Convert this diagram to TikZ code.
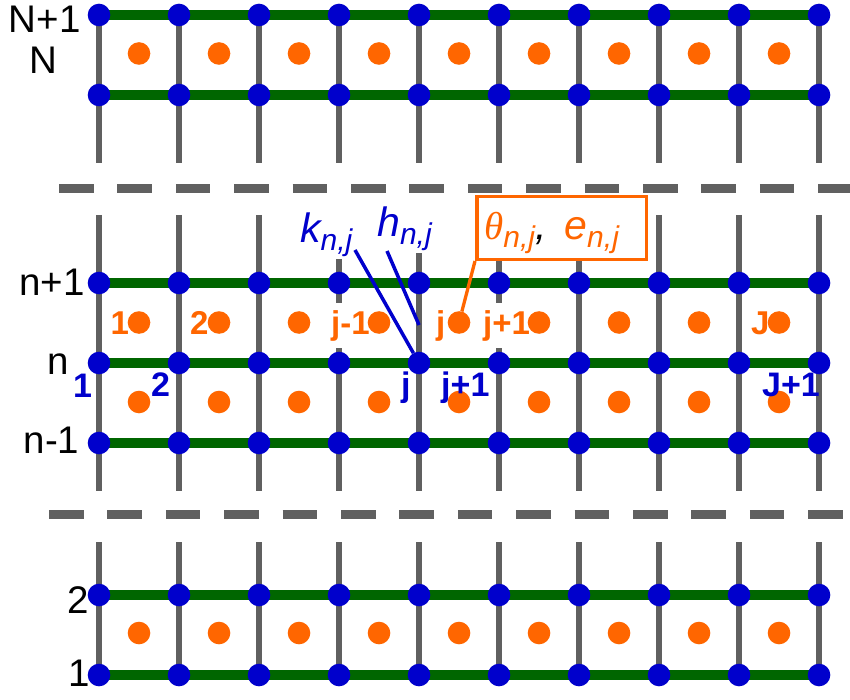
\documentclass[tikz,border=0pt]{standalone}
\usepackage{fontspec}
\setmainfont{Liberation Sans}
\newfontfamily\thetafont{Liberation Serif}
\usetikzlibrary{calc}
\definecolor{dotblue}{HTML}{0000CC}
\definecolor{gridgreen}{HTML}{006600}
\definecolor{gridgray}{HTML}{606060}
\definecolor{dotorange}{HTML}{FF6600}
\pgfdeclarelayer{gridl}
\pgfdeclarelayer{labl}
\pgfdeclarelayer{greenl}
\pgfsetlayers{gridl,labl,greenl,main}
\newcommand\subnj{\raisebox{-8pt}{\fontsize{30}{31}\selectfont\itshape n,j}}
\tikzset{
  bdot/.style={circle, fill=dotblue, minimum size=22.6pt, inner sep=0pt, outer sep=0pt},
  odot/.style={circle, fill=dotorange, minimum size=22.6pt, inner sep=0pt, outer sep=0pt},
  vline/.style={draw=gridgray, line width=5.5pt},
  hline/.style={draw=gridgreen, line width=9.3pt},
  sepline/.style={draw=gridgray, line width=8.7pt, dash pattern=on 34.5pt off 23.9pt},
  rowlab/.style={anchor=base west, inner sep=0pt, font=\fontsize{38.5}{40}\selectfont},
  olab/.style={anchor=base west, inner xsep=0pt, inner ysep=7pt, fill=white, text=dotorange, font=\fontsize{33}{35}\selectfont\bfseries},
  blab/.style={anchor=base west, inner sep=0pt, text=dotblue, font=\fontsize{34}{36}\selectfont\bfseries},
  mlab/.style={anchor=base west, inner sep=2pt, fill=white, text=dotblue, font=\fontsize{41}{43}\selectfont\itshape},
  tboxst/.style={draw=dotorange, line width=3.5pt, fill=white, minimum width=169.5pt, minimum height=62.6pt, inner sep=0pt},
  tlabst/.style={anchor=base west, inner sep=0pt, text=dotorange, font=\fontsize{41}{43}\selectfont},
  lead/.style={draw=dotblue, line width=3.5pt},
  olead/.style={draw=dotorange, line width=3.3pt}
}
\begin{document}
\begin{tikzpicture}[x=1pt,y=-1pt]
\useasboundingbox (0,0) rectangle (850,700);
% blue grid nodes
\foreach \r/\y in {1/15,2/95,3/283,4/363,5/443,6/595,7/675}{
  \foreach \c in {0,...,9}{
    \node[bdot] (b\r-\c) at ({99+80*\c},\y) {};
  }
}
% orange cell nodes
\foreach \r/\y in {1/53.5,2/322.5,3/402,4/633}{
  \foreach \c in {0,...,8}{
    \node[odot] (o\r-\c) at ({139+80*\c},\y) {};
  }
}
% free ends of the grey lines
\foreach \c in {0,...,9}{
  \coordinate (ta\c) at ({99+80*\c},163);
  \coordinate (ma\c) at ({99+80*\c},215);
  \coordinate (mb\c) at ({99+80*\c},491);
  \coordinate (ba\c) at ({99+80*\c},542);
}
\coordinate (d1a) at (59,188.4);
\coordinate (d1b) at (853,188.4);
\coordinate (d2a) at (49,514.5);
\coordinate (d2b) at (843,514.5);
\begin{pgfonlayer}{gridl}
  \foreach \c in {0,...,9}{
    \draw[vline] (b1-\c.center) -- (ta\c);
    \draw[vline] (ma\c) -- (mb\c);
    \draw[vline] (ba\c) -- (b7-\c.center);
  }
  \draw[sepline] (d1a) -- (d1b);
  \draw[sepline] (d2a) -- (d2b);
\end{pgfonlayer}
\begin{pgfonlayer}{greenl}
  \foreach \r in {1,...,7}{
    \draw[hline] (b\r-0.center) -- (b\r-9.center);
  }
\end{pgfonlayer}
\begin{pgfonlayer}{labl}
  \node[olab] (ol1) at (110.4,334) {1};
  \node[olab] (ol2) at (190,334) {2};
  \node[olab] (oljm) at (331,334) {j-1};
  \node[olab] (olj) at (436,334) {j};
  \node[olab] (oljp) at (483,334) {j+1};
  \node[olab] (olJ) at (751,334) {J};
  \node[mlab] (klab) at (298,243) {k\subnj};
  \node[mlab] (hlab) at (375,237) {h\subnj};
  \node[tboxst] (tbox) at (561.5,228) {};
  \node[tlabst] (tlab) at (484,240) {{\fontsize{39}{40}\selectfont\thetafont\itshape θ}\subnj{\color{black}\itshape ,}\hspace{18pt}{\itshape e}\subnj};
\end{pgfonlayer}
% row labels
\node[rowlab] (lN1) at (8.8,33) {N+1};
\node[rowlab] (lN) at (28.8,74) {N};
\node[rowlab] (ln1) at (19.2,295) {n+1};
\node[rowlab] (ln) at (47.5,374) {n};
\node[rowlab] (lnm) at (23.5,453) {n-1};
\node[rowlab] (l2) at (66.8,613) {2};
\node[rowlab] (l1) at (67.8,686) {1};
% blue node labels
\node[blab] (bl1) at (73,397) {1};
\node[blab] (bl2) at (151,396.7) {2};
\node[blab] (blj) at (401,396) {j};
\node[blab] (bljp) at (441,396.7) {j+1};
\node[blab] (blJ) at (762,396.7) {J+1};
% leaders
\coordinate (kfoot) at (355,250);
\coordinate (hfoot) at (387,251);
\coordinate (hend) at (419,325);
\draw[lead] (kfoot) -- (b4-4);
\draw[lead] (hfoot) -- (hend);
\draw[olead] (tbox.south west) -- (o2-4);
\end{tikzpicture}
\end{document}
